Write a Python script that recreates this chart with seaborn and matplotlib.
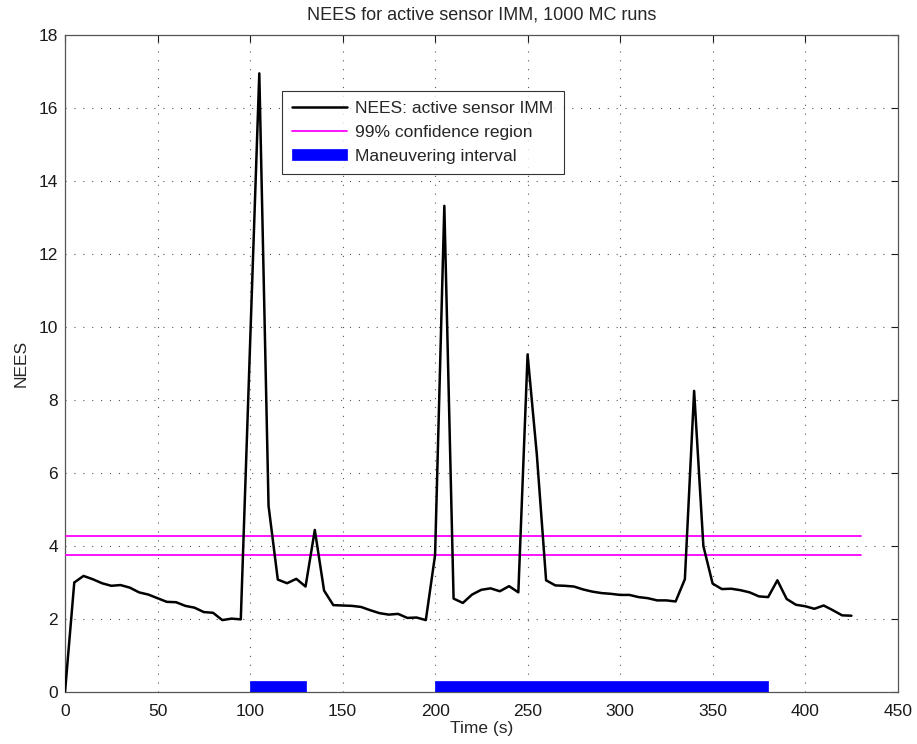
import numpy as np
import pandas as pd
import matplotlib
matplotlib.use("Agg")
import matplotlib.pyplot as plt
import seaborn as sns

# ---- data ----
time_s = list(range(0, 430, 5))
nees = [0.00, 3.00, 3.18, 3.09, 2.98, 2.91, 2.93, 2.86, 2.73, 2.67,
        2.57, 2.47, 2.46, 2.36, 2.31, 2.19, 2.17, 1.97, 2.01, 1.99,
        9.50, 16.95, 5.10, 3.08, 2.98, 3.10, 2.89, 4.44, 2.78, 2.38,
        2.37, 2.36, 2.33, 2.24, 2.16, 2.12, 2.14, 2.03, 2.04, 1.97,
        3.75, 13.32, 2.56, 2.44, 2.67, 2.80, 2.84, 2.76, 2.90, 2.73,
        9.25, 6.50, 3.06, 2.92, 2.91, 2.89, 2.81, 2.75, 2.71, 2.69,
        2.66, 2.66, 2.60, 2.57, 2.51, 2.51, 2.48, 3.09, 8.25, 4.00,
        2.97, 2.82, 2.83, 2.79, 2.73, 2.62, 2.60, 3.06, 2.55, 2.39,
        2.35, 2.28, 2.37, 2.24, 2.10, 2.09]
conf_x = [0, 430]
conf_lower = 3.74
conf_upper = 4.27
man_start = [100, 200]
man_end = [130, 380]
man_height = 0.3

x_ticks = list(range(0, 451, 50))
y_ticks = list(range(0, 19, 2))

df = pd.DataFrame({"Time (s)": time_s, "NEES": nees})

sns.set_style("white")
plt.rcParams['font.family'] = ['Liberation Sans', 'DejaVu Sans']
FS = 12.5

fig = plt.figure(figsize=(9.17, 7.44), dpi=100)
ax = fig.add_axes([0.0709, 0.0699, 0.908, 0.883])

sns.lineplot(data=df, x="Time (s)", y="NEES", color="black", linewidth=1.8,
             ax=ax, label="NEES: active sensor IMM", zorder=4)
ax.plot(conf_x, [conf_upper, conf_upper], color="#ff00ff", linewidth=1.3,
        label="99% confidence region", zorder=3)
ax.plot(conf_x, [conf_lower, conf_lower], color="#ff00ff", linewidth=1.3, zorder=3)
ax.broken_barh([(s, e - s) for s, e in zip(man_start, man_end)], (0, man_height),
               facecolor="#0000ff", edgecolor="#0000ff", linewidth=0.5,
               label="Maneuvering interval", zorder=3)

ax.set_xlim(0, 450)
ax.set_ylim(0, 18)
ax.set_xticks(x_ticks)
ax.set_yticks(y_ticks)
ax.grid(True, color="#555555", linestyle=(0, (1, 7)), linewidth=0.8)
ax.tick_params(direction="in", length=5, width=0.8, top=True, right=True,
               labelsize=FS, colors="#1a1a1a")
ax.tick_params(axis="x", pad=9)
ax.tick_params(axis="y", pad=5)
for sp in ax.spines.values():
    sp.set_visible(True)
    sp.set_color("#555555")
    sp.set_linewidth(0.9)

ax.set_xlabel("Time (s)", fontsize=FS, labelpad=1)
ax.set_ylabel("NEES", fontsize=FS, labelpad=7)
ax.set_title("NEES for active sensor IMM, 1000 MC runs", fontsize=13, pad=11)

leg = ax.legend(loc="upper left", bbox_to_anchor=(0.26, 0.915), borderaxespad=0,
                fontsize=FS, frameon=True, fancybox=False, handlelength=3.2,
                handleheight=0.6, borderpad=0.6, labelspacing=0.5, handletextpad=0.45)
leg.get_frame().set_edgecolor("black")
leg.get_frame().set_linewidth(0.8)

fig.savefig("out.png", dpi=100)
